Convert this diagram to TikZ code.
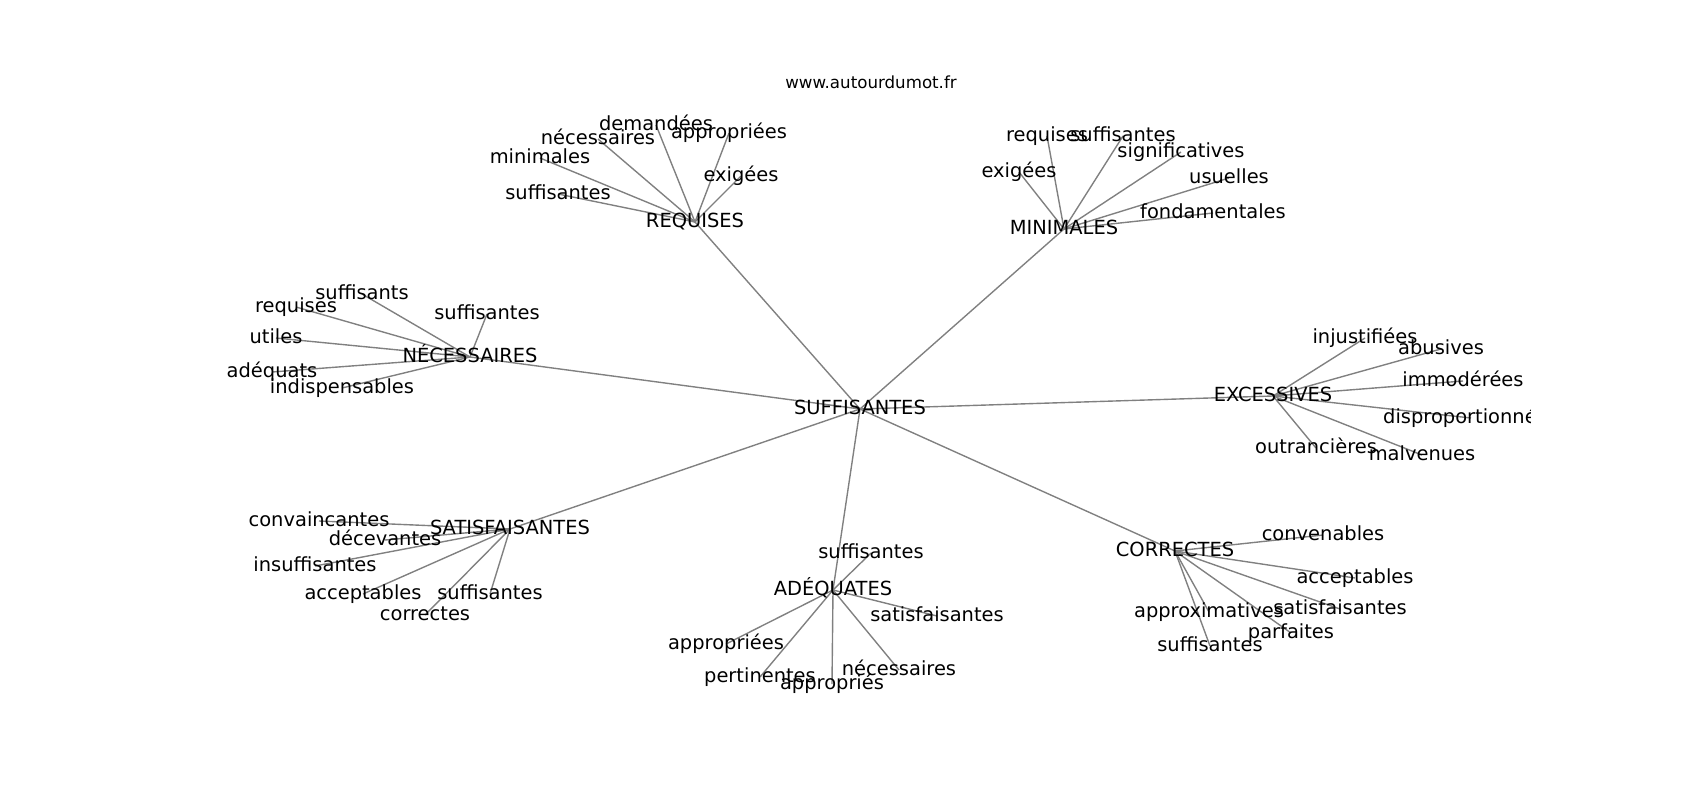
\documentclass[tikz,border=0pt]{standalone}
\usepackage{fontspec}
\setmainfont{DejaVu Sans}
\usetikzlibrary{backgrounds}
\definecolor{edgegray}{RGB}{128,128,128}
\begin{document}
\begin{tikzpicture}[x=0.72pt,y=-0.72pt,
  lbl/.style={font=\fontsize{14pt}{16pt}\selectfont, inner sep=0pt, text height=10.64pt, text depth=3.3pt, anchor=center},
  ttl/.style={font=\fontsize{12pt}{14pt}\selectfont, inner sep=0pt, anchor=base},
  edge/.style={draw=edgegray, line width=1pt}]
\useasboundingbox (0,0) rectangle (1700,800);
\node[ttl] (title) at (871,88) {www.autourdumot.fr};
\begin{scope}
\clip (212.5,96) rectangle (1530,704);
% hubs
\node[lbl] (s0) at (860,409) {SUFFISANTES};
\node[lbl] (req) at (695,222) {REQUISES};
\node[lbl] (min) at (1064,229) {MINIMALES};
\node[lbl] (nec) at (470,357) {NÉCESSAIRES};
\node[lbl] (exc) at (1273,396) {EXCESSIVES};
\node[lbl] (sat) at (510,529) {SATISFAISANTES};
\node[lbl] (ade) at (833,590) {ADÉQUATES};
\node[lbl] (cor) at (1175,551) {CORRECTES};
% REQUISES leaves
\node[lbl] (r1) at (656,125) {demandées};
\node[lbl] (r2) at (729,133) {appropriées};
\node[lbl] (r3) at (598,139) {nécessaires};
\node[lbl] (r4) at (540,158) {minimales};
\node[lbl] (r5) at (558,194) {suffisantes};
\node[lbl] (r6) at (741,176) {exigées};
% MINIMALES leaves
\node[lbl] (m1) at (1047,136) {requises};
\node[lbl] (m2) at (1123,136) {suffisantes};
\node[lbl] (m3) at (1181,152) {significatives};
\node[lbl] (m4) at (1019,172) {exigées};
\node[lbl] (m5) at (1229,178) {usuelles};
\node[lbl] (m6) at (1213,213) {fondamentales};
% NECESSAIRES leaves
\node[lbl] (n1) at (362,294) {suffisants};
\node[lbl] (n2) at (296,307) {requises};
\node[lbl] (n3) at (487,314) {suffisantes};
\node[lbl] (n4) at (276,338) {utiles};
\node[lbl] (n5) at (272,372) {adéquats};
\node[lbl] (n6) at (342,388) {indispensables};
% EXCESSIVES leaves
\node[lbl] (e1) at (1365,338) {injustifiées};
\node[lbl] (e2) at (1441,349) {abusives};
\node[lbl] (e3) at (1463,381) {immodérées};
\node[lbl] (e4) at (1471,418) {disproportionnées};
\node[lbl] (e5) at (1316,448) {outrancières};
\node[lbl] (e6) at (1422,455) {malvenues};
% SATISFAISANTES leaves
\node[lbl] (t1) at (319,521) {convaincantes};
\node[lbl] (t2) at (385,540) {décevantes};
\node[lbl] (t3) at (315,566) {insuffisantes};
\node[lbl] (t4) at (363,594) {acceptables};
\node[lbl] (t5) at (490,594) {suffisantes};
\node[lbl] (t6) at (425,615) {correctes};
% ADEQUATES leaves
\node[lbl] (a1) at (871,553) {suffisantes};
\node[lbl] (a2) at (937,616) {satisfaisantes};
\node[lbl] (a3) at (726,644) {appropriées};
\node[lbl] (a4) at (760,677) {pertinentes};
\node[lbl] (a5) at (832,684) {appropriés};
\node[lbl] (a6) at (899,670) {nécessaires};
% CORRECTES leaves
\node[lbl] (c1) at (1323,535) {convenables};
\node[lbl] (c2) at (1355,578) {acceptables};
\node[lbl] (c3) at (1340,609) {satisfaisantes};
\node[lbl] (c4) at (1209,612) {approximatives};
\node[lbl] (c5) at (1291,633) {parfaites};
\node[lbl] (c6) at (1210,646) {suffisantes};
\end{scope}
\begin{scope}[on background layer]
\foreach \h in {req,min,nec,exc,sat,ade,cor}
  \draw[edge] (s0.center) -- (\h.center);
\foreach \l in {r1,r2,r3,r4,r5,r6}
  \draw[edge] (req.center) -- (\l.center);
\foreach \l in {m1,m2,m3,m4,m5,m6}
  \draw[edge] (min.center) -- (\l.center);
\foreach \l in {n1,n2,n3,n4,n5,n6}
  \draw[edge] (nec.center) -- (\l.center);
\foreach \l in {e1,e2,e3,e4,e5,e6}
  \draw[edge] (exc.center) -- (\l.center);
\foreach \l in {t1,t2,t3,t4,t5,t6}
  \draw[edge] (sat.center) -- (\l.center);
\foreach \l in {a1,a2,a3,a4,a5,a6}
  \draw[edge] (ade.center) -- (\l.center);
\foreach \l in {c1,c2,c3,c4,c5,c6}
  \draw[edge] (cor.center) -- (\l.center);
\end{scope}
\end{tikzpicture}
\end{document}
